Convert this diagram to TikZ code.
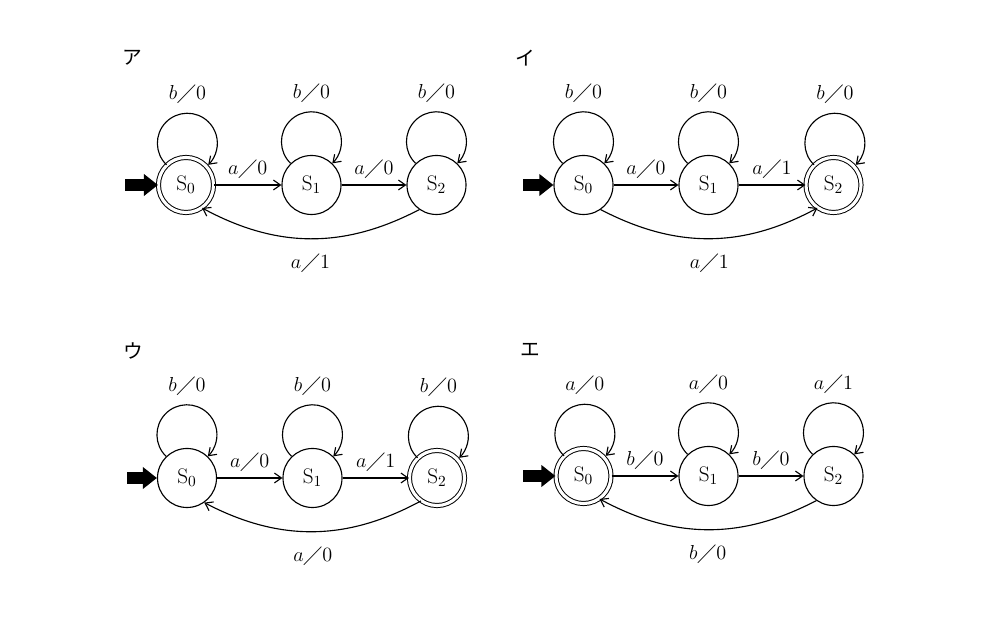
\documentclass[tikz,border=0pt]{standalone}
\usepackage{amssymb}
\usepackage{fontspec}
\newfontfamily\cjk{Noto Sans CJK JP}
\usetikzlibrary{arrows.meta}
\newcommand\io[2]{$#1\diagup#2$}
\def\selfloop(#1)#2{\draw[trans] (#1.134) arc[start angle=226, end angle=-46, radius=30] node[midway, above=3pt] {#2};}
\tikzset{
	state/.style={circle, draw, line width=0.8pt, minimum size=1.475cm, inner sep=0pt},
	final/.style={double, double distance=2.2pt, line width=0.7pt, minimum size={1.475cm-2.8pt}},
	trans/.style={line width=0.8pt, -{Straight Barb[length=5pt,width=7pt]}},
	init/.style={line width=8.5pt, -{Triangle[length=10pt,width=15pt]}},
	paneltitle/.style={font=\cjk\fontsize{14}{16}\selectfont},
	lab/.style={above=1pt},
	blab/.style={below=7pt}
}
\begin{document}
\begin{tikzpicture}[x=0.025cm, y=0.025cm, font=\fontsize{15}{18}\selectfont]
			%%%%% START %%%%%
			\useasboundingbox (0, 0) rectangle (994, 630);
			
			% ア
			\node[paneltitle] (ta) at (132, 572) {ア};
			\node[state, final] (a0) at (186, 445) {$\mathrm{S}_0$};
			\node[state] (a1) at (311.5, 445) {$\mathrm{S}_1$};
			\node[state] (a2) at (436.5, 445) {$\mathrm{S}_2$};
			\coordinate (ai) at (125, 445);
			\draw[init] (ai) -- (a0);
			\selfloop(a0){\io{b}{0}}
			\selfloop(a1){\io{b}{0}}
			\selfloop(a2){\io{b}{0}}
			\draw[trans] (a0) -- node[lab] {\io{a}{0}} (a1);
			\draw[trans] (a1) -- node[lab] {\io{a}{0}} (a2);
			\draw[trans] (a2.235) to[bend left=28] node[blab] {\io{a}{1}} (a0.305);
			
			% イ
			\node[paneltitle] (ti) at (525, 572) {イ};
			\node[state] (i0) at (583.5, 445) {$\mathrm{S}_0$};
			\node[state] (i1) at (708.5, 445) {$\mathrm{S}_1$};
			\node[state, final] (i2) at (833.5, 445) {$\mathrm{S}_2$};
			\coordinate (ii) at (523, 445);
			\draw[init] (ii) -- (i0);
			\selfloop(i0){\io{b}{0}}
			\selfloop(i1){\io{b}{0}}
			\selfloop(i2){\io{b}{0}}
			\draw[trans] (i0) -- node[lab] {\io{a}{0}} (i1);
			\draw[trans] (i1) -- node[lab] {\io{a}{1}} (i2);
			\draw[trans] (i0.305) to[bend right=28] node[blab] {\io{a}{1}} (i2.235);
			
			% ウ
			\node[paneltitle] (tu) at (133, 279) {ウ};
			\node[state] (u0) at (187, 152) {$\mathrm{S}_0$};
			\node[state] (u1) at (312.5, 152) {$\mathrm{S}_1$};
			\node[state, final] (u2) at (437, 152) {$\mathrm{S}_2$};
			\coordinate (ui) at (127, 152);
			\draw[init] (ui) -- (u0);
			\selfloop(u0){\io{b}{0}}
			\selfloop(u1){\io{b}{0}}
			\selfloop(u2){\io{b}{0}}
			\draw[trans] (u0) -- node[lab] {\io{a}{0}} (u1);
			\draw[trans] (u1) -- node[lab] {\io{a}{1}} (u2);
			\draw[trans] (u2.235) to[bend left=28] node[blab] {\io{a}{0}} (u0.305);
			
			% エ
			\node[paneltitle] (te) at (530, 280) {エ};
			\node[state, final] (e0) at (583.5, 154) {$\mathrm{S}_0$};
			\node[state] (e1) at (708.5, 154) {$\mathrm{S}_1$};
			\node[state] (e2) at (833.5, 154) {$\mathrm{S}_2$};
			\coordinate (ei) at (523, 154);
			\draw[init] (ei) -- (e0);
			\selfloop(e0){\io{a}{0}}
			\selfloop(e1){\io{a}{0}}
			\selfloop(e2){\io{a}{1}}
			\draw[trans] (e0) -- node[lab] {\io{b}{0}} (e1);
			\draw[trans] (e1) -- node[lab] {\io{b}{0}} (e2);
			\draw[trans] (e2.235) to[bend left=28] node[blab] {\io{b}{0}} (e0.305);
			
			%%%%% END %%%%%
\end{tikzpicture}
\end{document}
